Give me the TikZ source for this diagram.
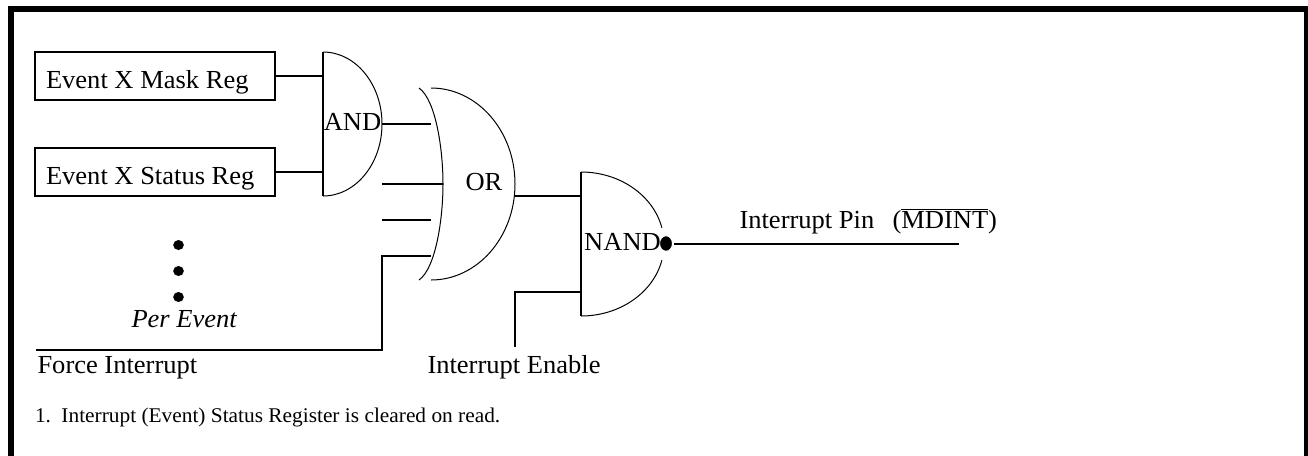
\documentclass[tikz,border=0pt]{standalone}
\usepackage{fontspec}
\setmainfont[FakeStretch=1.02]{Liberation Serif}
\usetikzlibrary{shapes.geometric}

\tikzset{every picture/.style={line width=0.75pt}}
\tikzset{every node/.style={font=\fontsize{19.5}{22}\selectfont}}
\tikzset{wire/.style={line width=1.5pt}}
\tikzset{gatecurve/.style={line width=0.75pt}}
\tikzset{regbox/.style={draw,line width=1.5pt,outer sep=0pt,inner xsep=8.25pt,inner ysep=0pt,minimum height=36pt,text width=163.5pt,align=flush left,text height=18pt,text depth=0pt}}
\tikzset{gate/.style={inner sep=0pt,outer sep=0pt,text height=9pt,text depth=0pt}}
\tikzset{dot/.style={ellipse,fill,inner sep=0pt,minimum width=8pt,minimum height=7.5pt}}
\tikzset{plaintext/.style={anchor=base west,inner sep=0pt}}

\begin{document}
\begin{tikzpicture}[x=0.75pt,y=0.75pt,yscale=-1,xscale=1]
\useasboundingbox (0,0) rectangle (1308,455);

%Shape: Frame
\draw [line width=4.5pt] (11,465) -- (11,9) -- (1307,9) -- (1307,465);

%Shape: Registers
\node (maskreg) [regbox] at (155,76) {Event X Mask Reg};
\node (statusreg) [regbox] at (155,172) {Event X Status Reg};

%Shape: Gates
\node (bubble) [ellipse,fill,draw=white,line width=3pt,inner sep=0pt,minimum width=12pt,minimum height=14pt] at (666,243.5) {};
\node (gateand) [gate,minimum width=44.25pt,minimum height=108pt] at (352.5,124) {AND};
\node (gateor) [gate,minimum width=46.5pt,minimum height=144pt] at (484,184) {OR};
\node (gatenand) [gate,minimum width=62.25pt,minimum height=108pt] at (622.5,244) {NAND};

\draw [wire] (gateand.north west) -- (gateand.south west);
\draw [gatecurve] (gateand.north west) arc [start angle=-90,end angle=90,x radius=59,y radius=72];
\draw [gatecurve] (419,88) .. controls (436,100) and (443,150) .. (443,184) .. controls (443,218) and (436,268) .. (419,280);
\draw [gatecurve] (431,88) arc [start angle=-90,end angle=90,x radius=84,y radius=96];
\draw [wire] (gatenand.north west) -- (gatenand.south west);
\draw [gatecurve] (gatenand.north west) arc [start angle=-90,end angle=-13,x radius=83,y radius=72];
\draw [gatecurve] (gatenand.south west) arc [start angle=90,end angle=13,x radius=83,y radius=72];

%Shape: Dots
\node (dotone) [dot] at (178.5,245) {};
\node (dottwo) [dot] at (178.5,271) {};
\node (dotthree) [dot] at (178.5,297) {};

% Free ends
\coordinate (orinone) at (431,124);
\coordinate (orintwo) at (443,184);
\coordinate (orinthree) at (431,220);
\coordinate (orinfour) at (431,256);
\coordinate (tiedtwo) at (382,184);
\coordinate (tiedthree) at (382,220);
\coordinate (forcestart) at (36,350);
\coordinate (forcecorner) at (382,256);
\coordinate (nandinone) at (581,196);
\coordinate (nandintwo) at (581,292);
\coordinate (enablestart) at (515,347);
\coordinate (pinstart) at (674,244);
\coordinate (pinend) at (959,244);

%Straight Lines
\draw [wire] (maskreg.east) -- (maskreg.east -| gateand.west);
\draw [wire] (statusreg.east) -- (statusreg.east -| gateand.west);
\draw [wire] (gateand.east) -- (orinone);
\draw [wire] (tiedtwo) -- (orintwo);
\draw [wire] (tiedthree) -- (orinthree);
\draw [wire] (forcestart) -| (forcecorner) -- (orinfour);
\draw [wire] (nandinone -| gateor.east) -- (nandinone);
\draw [wire] (enablestart) |- (nandintwo);
\draw [wire] (pinstart) -- (pinend);

% Text Node
\node (perevent) [plaintext,font=\fontsize{19.5}{22}\selectfont\itshape] at (131,327) {Per Event};
% Text Node
\node (forcetext) [plaintext] at (37,373) {Force Interrupt};
% Text Node
\node (enabletext) [plaintext] at (427,373) {Interrupt Enable};
% Text Node
\node (pintext) [plaintext] at (739,228) {Interrupt Pin\hspace{0.7em}($\overline{\mbox{MDINT}}$)};
% Text Node
\node (notetext) [plaintext,font=\fontsize{15.7}{18}\selectfont] at (34.5,422) {1.\hspace{0.5em}Interrupt (Event) Status Register is cleared on read.};

\end{tikzpicture}
\end{document}
